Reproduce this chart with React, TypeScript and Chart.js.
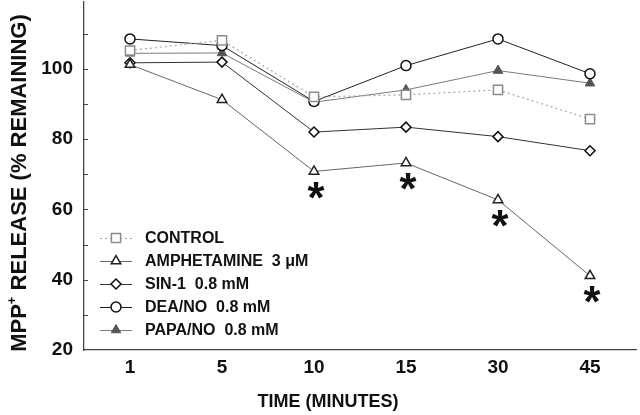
import React, { useEffect, useRef } from 'react';
import { Chart, registerables } from 'chart.js';

Chart.register(...registerables);

const timeLabels = ['1', '5', '10', '15', '30', '45'];
const seriesLabels = ['CONTROL', 'AMPHETAMINE  3 \u03bcM', 'SIN-1  0.8 mM', 'DEA/NO  0.8 mM', 'PAPA/NO  0.8 mM'];
const controlValues = [105.2, 108.1, 92.0, 92.6, 94.0, 85.7];
const amphetamineValues = [101.2, 91.2, 70.8, 73.2, 62.7, 41.1];
const sin1Values = [101.7, 101.9, 82.0, 83.4, 80.7, 76.7];
const deaNoValues = [108.5, 106.6, 90.7, 100.9, 108.5, 98.6];
const papaNoValues = [104.4, 104.5, 90.5, 94.0, 99.5, 95.9];
const significantPoints = [2, 3, 4, 5];
const yTickLabels = [20, 40, 60, 80, 100];
const xAxisTitle = 'TIME (MINUTES)';
const yAxisTitleParts = ['MPP', '+', ' RELEASE (% REMAINING)'];

const FONT = '"Liberation Sans", Arial, Helvetica, sans-serif';

function drawMarker(ctx: CanvasRenderingContext2D, style: string, x: number, y: number, r: number) {
  ctx.beginPath();
  if (style === 'circle') {
    ctx.arc(x, y, r, 0, Math.PI * 2);
  } else if (style === 'rect') {
    const h = r * Math.SQRT1_2;
    ctx.rect(x - h, y - h, 2 * h, 2 * h);
  } else if (style === 'rectRot') {
    ctx.moveTo(x, y - r);
    ctx.lineTo(x + r, y);
    ctx.lineTo(x, y + r);
    ctx.lineTo(x - r, y);
    ctx.closePath();
  } else if (style === 'triangle') {
    for (let k = 0; k < 3; k++) {
      const a = (k * 2 * Math.PI) / 3;
      const px = x + Math.sin(a) * r;
      const py = y - Math.cos(a) * r;
      if (k === 0) ctx.moveTo(px, py);
      else ctx.lineTo(px, py);
    }
    ctx.closePath();
  }
  ctx.fill();
  ctx.stroke();
}

const decorPlugin = {
  id: 'decor',
  afterDraw(chart: any) {
    const ctx: CanvasRenderingContext2D = chart.ctx;
    const area = chart.chartArea;
    const yScale = chart.scales.y;

    ctx.save();
    // inward y ticks
    ctx.strokeStyle = '#444';
    ctx.lineWidth = 1;
    for (const t of yScale.ticks) {
      const v = t.value;
      if (v % 10 !== 0 || v <= yScale.min) continue;
      const py = Math.round(yScale.getPixelForValue(v)) + 0.5;
      ctx.beginPath();
      ctx.moveTo(area.left, py);
      ctx.lineTo(area.left + 4, py);
      ctx.stroke();
    }

    // asterisks under amphetamine points
    const meta = chart.getDatasetMeta(1);
    ctx.fillStyle = '#111';
    ctx.font = `bold 100px ${FONT}`;
    const m0 = ctx.measureText('*');
    const w0 = m0.actualBoundingBoxLeft + m0.actualBoundingBoxRight;
    const size = (100 * 17) / (w0 || 40);
    ctx.font = `bold ${size}px ${FONT}`;
    const m = ctx.measureText('*');
    ctx.textAlign = 'left';
    ctx.textBaseline = 'alphabetic';
    for (const idx of significantPoints) {
      const el = meta.data[idx];
      if (!el) continue;
      const cx = el.x + 2;
      const cy = el.y + 19;
      const gw = m.actualBoundingBoxLeft + m.actualBoundingBoxRight;
      const gh = m.actualBoundingBoxAscent + m.actualBoundingBoxDescent;
      const tx = cx - gw / 2 + m.actualBoundingBoxLeft;
      const ty = cy - gh / 2 + m.actualBoundingBoxAscent;
      ctx.fillText('*', tx, ty);
    }

    // legend
    const ds = chart.data.datasets;
    ctx.font = `bold 16px ${FONT}`;
    ctx.textBaseline = 'middle';
    ctx.textAlign = 'left';
    for (let i = 0; i < ds.length; i++) {
      const d = ds[i];
      const ly = area.bottom - 112 + i * 23;
      const lx0 = area.left + 16;
      ctx.save();
      ctx.strokeStyle = d.borderColor;
      ctx.lineWidth = d.borderWidth;
      ctx.setLineDash(d.borderDash || []);
      ctx.beginPath();
      ctx.moveTo(lx0, ly + 0.5);
      ctx.lineTo(lx0 + 32, ly + 0.5);
      ctx.stroke();
      ctx.restore();
      ctx.save();
      ctx.strokeStyle = d.pointBorderColor;
      ctx.fillStyle = d.pointBackgroundColor;
      ctx.lineWidth = d.pointBorderWidth;
      drawMarker(ctx, d.pointStyle, lx0 + 16, ly, d.pointRadius);
      ctx.restore();
      ctx.fillStyle = '#111';
      ctx.fillText(d.label, area.left + 61, ly + 1);
    }

    // x axis title
    ctx.font = `bold 18px ${FONT}`;
    ctx.textAlign = 'center';
    ctx.textBaseline = 'middle';
    ctx.fillStyle = '#111';
    ctx.fillText(xAxisTitle, area.left + 244, 402);

    // y axis title with superscript
    ctx.save();
    ctx.translate(20, 183);
    ctx.rotate(-Math.PI / 2);
    const mainFont = `bold 22px ${FONT}`;
    const supFont = `bold 13px ${FONT}`;
    ctx.font = mainFont;
    const w1 = ctx.measureText(yAxisTitleParts[0]).width;
    const w3 = ctx.measureText(yAxisTitleParts[2]).width;
    ctx.font = supFont;
    const w2 = ctx.measureText(yAxisTitleParts[1]).width;
    const total = w1 + w2 + w3;
    let x = -total / 2;
    ctx.textAlign = 'left';
    ctx.textBaseline = 'middle';
    ctx.font = mainFont;
    ctx.fillText(yAxisTitleParts[0], x, 0);
    x += w1;
    ctx.font = supFont;
    ctx.fillText(yAxisTitleParts[1], x, -8);
    x += w2;
    ctx.font = mainFont;
    ctx.fillText(yAxisTitleParts[2], x, 0);
    ctx.restore();

    ctx.restore();
  },
};

export default function App() {
  const canvasRef = useRef<HTMLCanvasElement | null>(null);

  useEffect(() => {
    document.body.style.margin = '0';
    const canvas = canvasRef.current;
    if (!canvas) return;
    const chart = new Chart(canvas, {
      type: 'line',
      data: {
        labels: timeLabels,
        datasets: [
          {
            label: seriesLabels[0],
            data: controlValues,
            borderColor: '#a8a8a8',
            borderWidth: 1.2,
            borderDash: [2, 3],
            pointStyle: 'rect',
            pointRadius: 6.5,
            pointBorderColor: '#8c8c8c',
            pointBackgroundColor: '#ffffff',
            pointBorderWidth: 1.5,
            fill: false,
          },
          {
            label: seriesLabels[1],
            data: amphetamineValues,
            borderColor: '#666666',
            borderWidth: 1,
            pointStyle: 'triangle',
            pointRadius: 5.5,
            pointBorderColor: '#222222',
            pointBackgroundColor: '#ffffff',
            pointBorderWidth: 1.5,
            fill: false,
          },
          {
            label: seriesLabels[2],
            data: sin1Values,
            borderColor: '#333333',
            borderWidth: 1,
            pointStyle: 'rectRot',
            pointRadius: 5,
            pointBorderColor: '#111111',
            pointBackgroundColor: '#ffffff',
            pointBorderWidth: 1.5,
            fill: false,
          },
          {
            label: seriesLabels[3],
            data: deaNoValues,
            borderColor: '#222222',
            borderWidth: 1,
            pointStyle: 'circle',
            pointRadius: 5,
            pointBorderColor: '#111111',
            pointBackgroundColor: '#ffffff',
            pointBorderWidth: 1.5,
            fill: false,
          },
          {
            label: seriesLabels[4],
            data: papaNoValues,
            borderColor: '#7a7a7a',
            borderWidth: 1,
            pointStyle: 'triangle',
            pointRadius: 5.5,
            pointBorderColor: '#555555',
            pointBackgroundColor: '#555555',
            pointBorderWidth: 1,
            fill: false,
          },
        ],
      },
      options: {
        responsive: false,
        animation: false,
        layout: { autoPadding: false, padding: { top: 2, right: 4, left: 0, bottom: 0 } },
        plugins: {
          legend: { display: false },
          tooltip: { enabled: false },
          title: { display: false },
        },
        elements: { line: { tension: 0 } },
        scales: {
          x: {
            type: 'category',
            offset: true,
            grid: { display: false, drawTicks: false },
            border: { display: true, color: '#444', width: 1.3 },
            ticks: {
              padding: 6,
              color: '#111',
              font: { family: FONT, size: 19, weight: 'bold' },
              maxRotation: 0,
            },
            afterFit: (scale: any) => {
              scale.height = 65;
              scale.paddingLeft = 0;
              scale.paddingRight = 0;
            },
          },
          y: {
            min: 20,
            max: 119,
            grid: { display: true, drawOnChartArea: false, drawTicks: false, color: 'rgba(0,0,0,0)' },
            border: { display: true, color: '#444', width: 1.3 },
            ticks: {
              stepSize: 10,
              padding: 11,
              color: '#111',
              font: { family: FONT, size: 19, weight: 'bold' },
              callback: (v: any) => (yTickLabels.includes(Number(v)) ? String(v) : ''),
            },
            afterFit: (scale: any) => {
              scale.width = 84;
              scale.paddingTop = 0;
              scale.paddingBottom = 0;
            },
          },
        },
      },
      plugins: [decorPlugin],
    } as any);
    return () => chart.destroy();
  }, []);

  return <canvas ref={canvasRef} width={640} height={415} style={{ display: 'block' }} />;
}
